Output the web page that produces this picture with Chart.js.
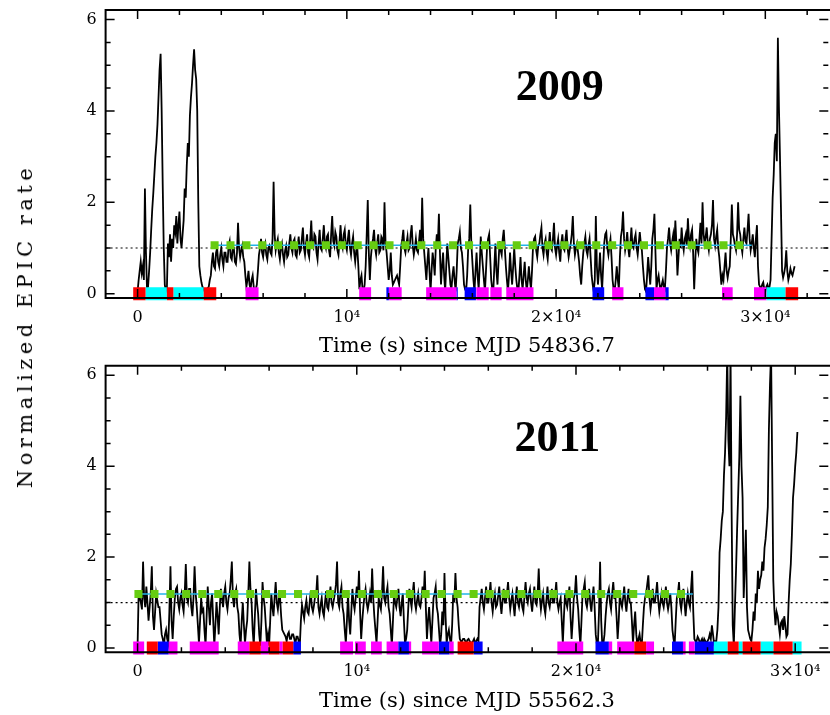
<!DOCTYPE html>
<html>
<head>
<meta charset="utf-8">
<script src="https://cdn.jsdelivr.net/npm/chart.js@4.4.1/dist/chart.umd.min.js"></script>
<style>
  html, body { margin: 0; padding: 0; background: #fff; overflow: hidden; }
  body { width: 830px; height: 715px; position: relative; }
  canvas { position: absolute; left: 0; }
  #top { top: 0; }
  #bottom { top: 360px; }
  #ylabel {
    position: absolute; left: 25px; top: 326px;
    transform: translate(-50%, -50%) rotate(-90deg);
    font: 21px 'DejaVu Serif'; letter-spacing: 4.5px; white-space: nowrap; color: #000;
  }
</style>
</head>
<body>
<canvas id="top" width="834" height="360"></canvas>
<canvas id="bottom" width="834" height="355"></canvas>
<div id="ylabel">Normalized EPIC rate</div>
<script>
const BIN = 50; // light curve bin, s

const xTickValues = [0, 10000, 20000, 30000];
const xTickLabels = ['0', '10⁴', '2×10⁴', '3×10⁴'];
const yTickValues = [0, 2, 4, 6];
const yTickLabels = ['0', '2', '4', '6'];
const refLevel = 1;

// ---- 2009 (one row = 1 ks) ----
const rate2009 = [
  0.05,0.3,0.5,0.7,0.45,0.6,0.3,2.3,0.9,0.1, 0.15,0.5,0.9,1.4,1.85,2.2,2.6,3.0,3.3,3.7,
  4.3,4.9,5.25,4.0,2.4,1.0,0.2,0.05,0.1,1.1, 0.8,1.3,0.7,1.2,1.0,1.5,1.35,1.7,1.1,1.5,
  1.8,1.2,1.0,1.3,1.6,2.3,2.1,2.8,3.3,3.0, 3.9,4.3,4.6,5.0,5.35,4.9,4.7,4.0,2.0,0.6,
  0.4,0.25,0.15,0.1,0.05,0.08,0.1,0.12,0.15,0.3, 0.4,0.7,0.9,0.6,0.55,0.9,1.0,0.7,0.6,0.85,
  1.0,0.75,0.6,0.9,0.9,0.7,0.7,1.05,1.15,0.8, 0.75,1.0,1.0,0.7,0.65,0.9,1.55,1.0,0.8,0.95,
  1.05,0.8,0.7,0.4,0.15,0.3,0.5,0.2,0.1,0.3, 0.4,0.15,0.05,0.1,0.2,0.5,0.85,1.0,1.2,0.9,
  0.8,1.0,1.1,0.85,0.75,1.0,1.05,0.9,0.85,1.2, 2.45,1.3,0.95,1.1,1.2,0.9,0.75,1.0,1.1,0.85,
  0.7,0.95,1.05,0.8,0.85,1.1,1.3,1.0,0.9,1.15, 1.2,0.85,0.8,1.05,1.25,0.9,0.95,1.2,1.45,1.0,
  0.85,1.1,1.3,0.9,0.8,1.2,1.6,1.05,1.0,1.3, 1.25,0.9,0.75,1.1,1.4,1.0,0.95,1.2,1.5,1.1,
  1.0,1.25,1.3,0.95,0.8,1.3,1.7,1.15,1.05,1.35, 1.25,0.95,0.85,1.15,1.5,1.1,1.0,1.3,1.4,1.05,
  0.95,1.2,1.4,1.0,0.85,1.1,1.25,0.9,0.7,0.95, 1.0,0.6,0.1,0.3,0.4,0.1,0.05,0.2,0.6,1.3,
  2.05,0.9,0.3,0.8,1.05,1.2,1.4,1.0,0.85,1.1, 1.3,0.9,0.95,1.25,1.2,0.95,2.0,1.1,0.9,0.6,
  0.3,0.5,0.9,0.4,0.2,0.25,0.3,0.35,0.4,0.3, 0.2,0.6,1.05,1.2,1.4,1.0,0.9,1.1,1.25,0.95,
  1.0,1.3,1.5,1.05,0.85,1.0,1.2,0.95,0.9,1.15, 1.4,1.0,2.1,1.2,0.9,0.6,0.3,0.7,1.0,0.5,
  0.05,0.5,0.9,0.7,0.4,1.0,1.3,1.1,1.75,0.9, 0.2,0.6,0.9,0.4,0.05,0.6,1.1,0.8,0.5,0.2,
  0.1,0.4,0.6,0.3,0.05,0.5,1.1,1.2,1.35,1.0, 0.9,0.6,0.2,0.1,0.05,0.4,1.0,1.2,1.95,1.1,
  0.7,0.3,0.05,0.5,0.9,0.4,0.1,0.6,1.25,0.9, 0.6,0.3,0.05,0.5,1.0,1.2,1.3,0.8,0.3,0.1,
  0.05,0.6,1.1,0.5,0.2,0.7,1.15,0.95,0.85,1.2, 1.4,1.0,0.6,0.3,0.05,0.4,0.9,0.5,0.2,0.6,
  1.0,0.6,0.3,0.1,0.05,0.4,0.8,0.3,0.1,0.4, 0.7,0.3,0.05,0.3,0.6,0.3,0.1,0.5,1.05,1.2,
  1.25,0.95,0.8,1.05,1.1,1.3,1.45,1.0,0.85,1.1, 1.2,0.9,0.75,1.05,1.35,1.0,0.95,1.2,1.55,1.0,
  0.85,1.05,1.2,0.9,0.7,1.1,1.3,1.0,0.95,1.2, 1.4,1.0,0.8,0.95,1.1,1.3,1.7,1.1,0.85,1.0,
  1.1,0.9,0.7,0.4,0.2,0.6,0.9,1.1,1.25,0.95, 0.85,1.05,1.2,0.8,0.4,0.2,0.05,0.3,1.7,0.6,
  0.2,0.5,0.9,0.4,0.1,0.6,1.1,1.3,1.35,1.0, 0.85,1.05,1.2,0.8,0.3,0.1,0.05,0.3,0.6,0.3,
  0.1,0.8,1.25,1.4,1.8,1.2,0.95,1.1,1.35,1.0, 0.8,1.1,1.45,1.05,1.0,1.2,1.3,1.0,0.85,1.1,
  1.35,1.1,0.95,0.6,0.3,0.1,0.05,0.4,0.8,0.5, 0.2,0.6,1.2,1.4,1.75,0.9,0.1,0.3,0.4,0.2,
  0.05,0.2,0.3,0.15,0.1,0.5,1.0,1.2,1.45,1.1, 0.95,1.15,1.3,1.0,1.6,1.1,0.4,0.8,1.2,1.0,
  1.45,1.1,0.95,1.2,1.3,1.05,1.65,1.2,1.05,1.3, 1.4,0.9,0.1,0.7,1.2,1.0,0.9,1.2,1.55,1.1,
  2.0,1.3,1.1,1.25,1.45,1.1,0.95,1.2,1.3,1.5, 2.05,1.2,1.05,1.25,1.4,1.0,0.8,0.5,0.2,0.4,
  0.3,0.6,0.9,0.5,0.35,0.5,0.6,1.2,1.95,1.3, 1.2,1.05,0.95,1.3,2.0,1.4,1.3,1.05,0.9,1.2,
  1.45,1.15,1.1,1.4,1.75,1.2,0.95,1.1,1.3,1.0, 0.8,1.2,1.5,0.6,0.2,0.15,0.1,0.2,0.25,0.1,
  0.05,0.15,0.2,0.1,0.15,0.3,1.2,2.1,2.6,3.3, 3.5,2.9,5.6,4.1,3.0,1.8,0.5,0.35,0.45,0.6,
  0.95,0.5,0.3,0.4,0.55,0.45,0.4,0.5,0.6
];
const squares2009 = [3680,4440,5200,5960,6720,7480,8240,9000,9760,10520,11280,12040,12800,13560,
  14320,15080,15840,16600,17360,18120,18880,19640,20400,21160,21920,22680,23440,24200,24960,
  25720,26480,27240,28000,28760];
const mean2009 = 1.06;
const meanSpan2009 = [3680, 29350];
const red2009 = [[-210,380],[1400,1710],[3160,3760],[30970,31570]];
const cyan2009 = [[380,1400],[1710,3160],[30060,30970]];
const magenta2009 = [[5160,5780],[10590,11160],[12010,12620],[13790,15240],[16190,16780],[16860,17400],
  [17620,18920],[22680,23220],[24680,25220],[27930,28440],[29460,30060]];
const blue2009 = [[11890,12010],[15240,15300],[15630,16170],[21740,22300],[24270,24680],[25220,25380]];

// ---- 2011 (one row = 1 ks) ----
const rate2011 = [
  0.05,1.25,1.1,1.0,0.85,1.9,1.1,0.9,1.35,1.0, 0.6,0.9,1.2,1.8,0.7,0.4,0.8,1.2,1.05,0.9,
  0.9,0.6,0.3,0.2,0.05,0.3,0.4,0.2,0.1,0.8, 1.8,0.6,0.2,0.7,1.1,1.3,1.35,1.0,0.85,1.1,
  1.2,0.95,0.8,1.2,1.85,1.1,1.0,1.3,1.3,0.9, 0.7,1.1,1.8,1.2,0.9,0.5,0.1,0.6,1.1,0.8,
  0.85,0.4,0.05,0.7,1.35,0.9,0.5,1.0,1.2,0.6, 0.05,0.5,1.0,0.7,0.3,0.9,1.3,1.1,0.9,1.2,
  1.35,1.0,0.85,1.1,1.2,1.5,1.9,1.1,0.9,1.2, 1.3,0.9,0.75,0.3,0.05,0.6,1.0,0.5,0.1,0.4,
  0.6,1.2,1.9,1.3,1.0,0.4,0.05,0.7,1.3,1.0, 0.75,0.3,0.05,0.6,1.45,1.1,0.9,0.5,0.1,0.3,
  0.05,0.6,1.2,0.9,0.7,1.1,1.45,1.0,0.85,1.1, 1.1,0.7,0.4,0.35,0.3,0.25,0.15,0.3,0.35,0.2,
  0.2,0.3,0.3,0.2,0.1,0.25,0.25,0.15,0.05,0.6, 0.95,0.8,0.65,0.9,1.05,0.8,0.75,1.0,1.25,0.9,
  0.8,0.95,1.15,1.2,1.6,0.9,0.75,0.95,1.1,0.8, 0.7,1.0,1.25,0.9,0.85,1.1,1.35,1.0,0.9,1.05,
  1.2,1.4,1.9,1.0,0.9,1.2,1.35,0.9,0.75,0.4, 0.1,0.6,1.2,0.6,0.3,0.8,1.3,1.0,0.85,1.1,
  1.35,1.1,1.7,0.8,0.2,0.6,0.9,1.15,1.3,1.0, 0.85,1.0,1.2,1.0,1.75,1.1,0.7,0.4,0.1,0.6,
  1.1,0.95,0.85,1.2,1.8,1.1,1.0,1.2,1.35,0.9, 0.75,0.4,0.05,0.6,1.2,1.0,0.9,1.1,1.3,0.9,
  0.7,1.0,1.2,0.6,0.1,0.2,0.4,0.9,1.3,1.05, 0.9,1.2,1.45,1.0,0.85,1.05,1.2,0.95,0.9,1.1,
  1.35,1.1,1.7,0.9,0.2,0.6,0.9,0.5,0.1,0.6, 1.1,1.2,1.35,0.9,0.75,0.4,0.05,0.3,0.8,0.5,
  1.65,0.7,0.1,0.3,0.4,0.2,0.05,0.5,1.2,1.0, 1.65,1.1,0.9,0.5,0.2,0.15,0.15,0.2,0.2,0.15,
  0.12,0.18,0.2,0.15,0.1,0.12,0.15,0.2,0.1,0.15, 0.2,0.15,0.9,1.1,1.3,1.0,0.85,1.1,1.35,1.0,
  1.0,1.2,1.45,1.0,0.8,1.05,1.2,0.9,0.95,1.15, 1.35,1.0,0.75,1.05,1.3,1.0,1.0,1.2,1.45,1.1,
  0.85,1.05,1.2,0.95,0.7,1.1,1.35,1.0,0.9,1.1, 1.1,0.9,0.8,1.15,1.45,1.1,1.0,1.2,1.3,1.0,
  0.8,1.1,1.35,1.0,0.95,1.2,1.75,1.1,0.85,1.05, 1.2,0.9,0.75,1.05,1.35,1.0,0.9,1.1,1.3,1.0,
  1.0,1.2,1.45,1.0,0.85,1.0,1.1,0.6,0.1,0.7, 1.2,1.0,0.9,1.1,1.35,0.7,0.2,0.6,1.1,1.2,
  1.6,1.1,0.85,0.4,0.05,0.6,1.2,1.3,1.45,1.0, 0.9,1.1,1.3,1.0,0.8,1.1,1.35,0.9,0.3,0.1,
  0.1,0.8,1.9,0.6,0.05,0.1,0.3,0.7,1.0,1.2, 1.3,1.0,0.85,1.2,1.45,1.1,1.1,0.7,0.2,0.6,
  1.2,1.0,0.9,1.1,1.35,1.0,0.8,1.1,1.3,1.0, 1.0,0.6,0.1,0.5,0.8,0.3,0.05,0.2,0.3,0.1,
  0.05,0.5,0.9,1.1,1.2,1.4,1.6,1.1,0.85,1.05, 1.3,1.0,1.0,1.2,1.45,1.05,0.8,1.0,1.2,1.0,
  0.9,1.1,1.35,1.0,0.85,1.0,1.2,0.9,0.4,0.2, 0.05,0.6,1.1,1.2,1.45,1.0,0.85,1.1,1.3,1.0,
  0.7,1.0,1.2,1.0,0.9,1.3,1.7,0.8,0.2,0.15, 0.15,0.25,0.2,0.1,0.15,0.2,0.1,0.2,0.15,0.1,
  0.15,0.2,0.3,0.2,0.5,0.3,0.1,0.15,0.15,0.4, 0.9,2.1,2.4,2.8,3.0,3.8,4.3,5.1,6.5,4.6,
  4.0,6.5,3.0,0.5,0.05,0.9,1.7,2.6,3.4,4.2, 5.55,4.0,3.3,1.1,1.8,2.6,0.9,0.4,0.3,0.2,
  0.15,0.4,0.8,0.6,1.2,1.0,1.7,1.3,1.5,1.6, 1.9,1.7,2.2,2.4,2.7,3.1,4.8,5.8,6.5,4.0,
  1.5,0.85,0.5,0.8,0.7,0.5,0.3,0.55,0.6,0.4, 0.7,0.5,0.25,0.3,1.0,1.5,1.85,2.5,3.3,3.6,
  4.0,4.3,4.75
];
const squares2011 = [40,770,1500,2220,2950,3680,4410,5140,5860,6590,7320,8050,8780,9500,10230,
  10960,11690,12420,13140,13870,14600,15330,16060,16780,17510,18240,18970,19700,20420,21150,
  21880,22610,23340,24060,24790];
const mean2011 = 1.19;
const meanSpan2011 = [40, 25330];
const red2011 = [[420,920],[5100,5620],[5980,6470],[6620,7100],[14600,15330],[22660,23200],
  [26920,27420],[27600,28420],[29010,29880]];
const cyan2011 = [[26290,26920],[27420,27600],[28420,29010],[29880,30290]];
const magenta2011 = [[-200,300],[1420,1820],[2380,3700],[4570,5100],[5620,5980],[6470,6620],
  [9240,9830],[9920,10410],[10650,11140],[11360,11890],[12380,12480],[12980,13740],[14230,14420],
  [19150,20330],[21500,21650],[21880,22660],[23200,23560],[24880,25000],[25150,25410]];
const blue2011 = [[920,1420],[7100,7450],[11890,12380],[13740,14230],[15330,15740],[20890,21500],
  [24380,24880],[25410,26290]];

const X_MINOR = 2000, X_MAJOR = 10000, Y_MINOR = 0.5, Y_MAJOR = 2;

function segData(segs) {
  const pts = [];
  segs.forEach(([s, e]) => pts.push({x: s, y: 0}, {x: e, y: 0}, {x: e, y: null}));
  return pts;
}

function segSet(segs, color) {
  return {
    data: segData(segs), borderColor: color, borderWidth: 13, borderCapStyle: 'butt',
    pointRadius: 0, spanGaps: false, clip: false
  };
}

// frame with inward ticks on all sides + the year label
const frameTicks = {
  id: 'frameTicks',
  afterDatasetsDraw(chart, args, opts) {
    const {ctx, chartArea: a} = chart;
    const {x, y} = chart.scales;
    ctx.save();
    ctx.strokeStyle = '#000';
    ctx.lineWidth = 1.5;
    ctx.beginPath();
    for (let v = Math.ceil(x.min / X_MINOR) * X_MINOR; v <= x.max; v += X_MINOR) {
      const px = x.getPixelForValue(v);
      const len = v % X_MAJOR === 0 ? 9 : 5;
      ctx.moveTo(px, a.bottom); ctx.lineTo(px, a.bottom - len);
      ctx.moveTo(px, a.top); ctx.lineTo(px, a.top + len);
    }
    for (let v = 0; v <= y.max; v += Y_MINOR) {
      const py = y.getPixelForValue(v);
      const len = v % Y_MAJOR === 0 ? 9 : 5;
      ctx.moveTo(a.left, py); ctx.lineTo(a.left + len, py);
      ctx.moveTo(a.right, py); ctx.lineTo(a.right - len, py);
    }
    ctx.stroke();
    ctx.lineWidth = 2;
    ctx.beginPath();
    ctx.moveTo(chart.width, a.top); ctx.lineTo(a.left, a.top);
    ctx.lineTo(a.left, a.bottom); ctx.lineTo(chart.width, a.bottom);
    ctx.stroke();
    ctx.fillStyle = '#000';
    ctx.font = 'bold 44px "Liberation Serif"';
    ctx.textAlign = 'center';
    ctx.textBaseline = 'alphabetic';
    ctx.fillText(opts.year, x.getPixelForValue(opts.at[0]), y.getPixelForValue(opts.at[1]));
    ctx.restore();
  }
};

function makePanel(id, p) {
  const curve = p.rate.map((v, i) => ({x: i * BIN, y: v}));
  return new Chart(document.getElementById(id), {
    type: 'line',
    data: {
      datasets: [
        {
          data: p.squares.map(t => ({x: t, y: p.mean})), showLine: false,
          pointStyle: 'rect', pointRadius: 5.7, pointHoverRadius: 5.7,
          pointBackgroundColor: '#66cc11', pointBorderColor: '#66cc11', pointBorderWidth: 0
        },
        {
          data: p.meanSpan.map(t => ({x: t, y: p.mean})), borderColor: '#22b4e8',
          borderWidth: 1.5, pointRadius: 0
        },
        segSet(p.red, '#ff0000'),
        segSet(p.cyan, '#00ffff'),
        segSet(p.magenta, '#ff00ff'),
        segSet(p.blue, '#0000ff'),
        {
          data: curve, borderColor: '#000', borderWidth: 1.8, pointRadius: 0, tension: 0,
          borderJoinStyle: 'miter'
        },
        {
          data: [{x: p.xMin, y: refLevel}, {x: p.xMax, y: refLevel}], borderColor: '#000',
          borderWidth: 1.2, borderDash: [2, 3], pointRadius: 0
        }
      ]
    },
    options: {
      responsive: false,
      animation: false,
      events: [],
      layout: {padding: {top: p.padTop, right: 3, left: 0, bottom: 0}},
      plugins: {
        legend: {display: false},
        tooltip: {enabled: false},
        frameTicks: {year: p.year, at: p.yearAt}
      },
      scales: {
        x: {
          type: 'linear', min: p.xMin, max: p.xMax,
          grid: {display: false, drawTicks: false},
          border: {display: false},
          afterBuildTicks: s => { s.ticks = xTickValues.map(v => ({value: v})); },
          afterFit: s => { s.height = p.xHeight; s.paddingLeft = 0; s.paddingRight = 0; },
          ticks: {
            autoSkip: false, maxRotation: 0, padding: 10, color: '#000',
            font: {family: 'DejaVu Serif', size: 16},
            callback: (v, i) => xTickLabels[i]
          },
          title: {
            display: true, text: p.xTitle, color: '#000',
            font: {family: 'DejaVu Serif', size: 21}, padding: {top: 0, bottom: 1}
          }
        },
        y: {
          min: -0.094, max: 6.21,
          grid: {display: false, drawTicks: false},
          border: {display: false},
          afterBuildTicks: s => { s.ticks = yTickValues.map(v => ({value: v})); },
          afterFit: s => { s.width = 105.6; s.paddingTop = 0; s.paddingBottom = 0; },
          ticks: {
            padding: 9, color: '#000',
            font: {family: 'DejaVu Serif', size: 16},
            callback: (v, i) => yTickLabels[i]
          }
        }
      }
    },
    plugins: [frameTicks]
  });
}

makePanel('top', {
  rate: rate2009, squares: squares2009, mean: mean2009, meanSpan: meanSpan2009,
  red: red2009, cyan: cyan2009, magenta: magenta2009, blue: blue2009,
  xMin: -1529, xMax: 33010, padTop: 10, xHeight: 62,
  xTitle: 'Time (s) since MJD 54836.7', year: '2009', yearAt: [20180, 4.24]
});

makePanel('bottom', {
  rate: rate2011, squares: squares2011, mean: mean2011, meanSpan: meanSpan2011,
  red: red2011, cyan: cyan2011, magenta: magenta2011, blue: blue2011,
  xMin: -1459, xMax: 31510, padTop: 3.3, xHeight: 62.7,
  xTitle: 'Time (s) since MJD 55562.3', year: '2011', yearAt: [19150, 4.33]
});
</script>
</body>
</html>
